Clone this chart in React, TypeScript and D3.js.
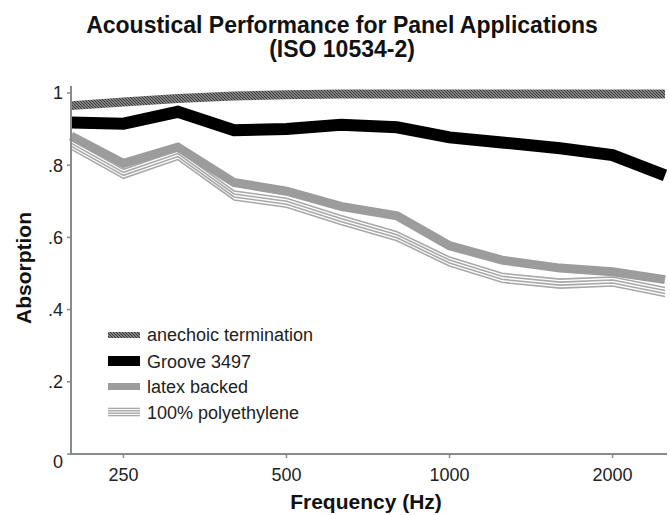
import * as d3 from "d3";

const freqs = [200, 250, 315, 400, 500, 630, 800, 1000, 1250, 1600, 2000, 2500];
const anechoic = [0.965, 0.975, 0.985, 0.992, 0.995, 0.997, 0.997, 0.997, 0.997, 0.997, 0.997, 0.997];
const groove = [0.918, 0.915, 0.948, 0.897, 0.9, 0.912, 0.905, 0.877, 0.863, 0.847, 0.828, 0.772];
const latex = [0.881, 0.805, 0.85, 0.752, 0.728, 0.686, 0.66, 0.577, 0.537, 0.515, 0.505, 0.483];
const poly = [0.857, 0.776, 0.828, 0.716, 0.696, 0.648, 0.603, 0.533, 0.488, 0.472, 0.478, 0.449];

const xTicks = [250, 500, 1000, 2000];
const yTicks = [0, 0.2, 0.4, 0.6, 0.8, 1];
const yTickLabels = ["0", ".2", ".4", ".6", ".8", "1"];
const legendLabels = ["anechoic termination", "Groove 3497", "latex backed", "100% polyethylene"];

const W = 670;
const H = 515;
const font = "'Liberation Sans', Arial, Helvetica, sans-serif";
const axisColor = "#8a8a8a";

export default function App() {
  const x = d3.scaleLog().domain([200, 2500]).range([71, 665]);
  const y = d3.scaleLinear().domain([0, 1]).range([454, 93]);

  const line = d3
    .line<number>()
    .x((_, i) => x(freqs[i]))
    .y((d) => y(d));

  const polyOffsets = [-4.5, -1.5, 1.5, 4.5];

  return (
    <svg width={W} height={H} style={{ position: "absolute", left: 0, top: 0, background: "#fff" }}>
      <defs>
        <pattern id="hatch" patternUnits="userSpaceOnUse" width={3} height={3}>
          <rect width={3} height={3} fill="#bdbdbd" />
          <path d="M0,0 L3,3 M-1,2 L1,4 M2,-1 L4,1" stroke="#3a3a3a" strokeWidth={1.3} />
        </pattern>
      </defs>

      {/* title */}
      <text x={342} y={33} textAnchor="middle" fontFamily={font} fontWeight="bold" fontSize={23} fill="#111">
        Acoustical Performance for Panel Applications
      </text>
      <text x={342} y={57} textAnchor="middle" fontFamily={font} fontWeight="bold" fontSize={23} fill="#111">
        (ISO 10534-2)
      </text>

      {/* series */}
      <g>
        {polyOffsets.map((dy, k) => (
          <path
            key={k}
            d={line(poly) || undefined}
            transform={`translate(0,${dy})`}
            fill="none"
            stroke="#a8a8a8"
            strokeWidth={1.6}
          />
        ))}
        <path d={line(latex) || undefined} fill="none" stroke="#9c9c9c" strokeWidth={9} />
        <path d={line(groove) || undefined} fill="none" stroke="#000" strokeWidth={12} />
        <path d={line(anechoic) || undefined} fill="none" stroke="url(#hatch)" strokeWidth={9} />
      </g>

      {/* axes */}
      <line x1={71} x2={71} y1={454} y2={86} stroke={axisColor} strokeWidth={2} />
      <line x1={70} x2={667} y1={454} y2={454} stroke={axisColor} strokeWidth={2} />
      {yTicks.map((t, i) => (
        <g key={t}>
          <line x1={67} x2={71} y1={y(t)} y2={y(t)} stroke={axisColor} strokeWidth={1.5} />
          <text
            x={63}
            y={y(t) + (t === 0 ? 8 : 0)}
            dy="0.35em"
            textAnchor="end"
            fontFamily={font}
            fontSize={18}
            fill="#222"
          >
            {yTickLabels[i]}
          </text>
        </g>
      ))}
      {xTicks.map((t) => (
        <g key={t}>
          <line x1={x(t)} x2={x(t)} y1={454} y2={458} stroke={axisColor} strokeWidth={1.5} />
          <text x={x(t)} y={481} textAnchor="middle" fontFamily={font} fontSize={18} fill="#222">
            {t}
          </text>
        </g>
      ))}
      <text x={366} y={509} textAnchor="middle" fontFamily={font} fontWeight="bold" fontSize={21} fill="#111">
        Frequency (Hz)
      </text>
      <text
        transform="translate(31,268) rotate(-90)"
        textAnchor="middle"
        fontFamily={font}
        fontWeight="bold"
        fontSize={21}
        fill="#111"
      >
        Absorption
      </text>

      {/* legend */}
      <g fontFamily={font} fontSize={18} fill="#222">
        <rect x={108} y={332} width={32} height={6} fill="url(#hatch)" />
        <rect x={108} y={356} width={32} height={10} fill="#000" />
        <rect x={108} y={383} width={32} height={7} fill="#9c9c9c" />
        {polyOffsets.map((dy, k) => (
          <line key={k} x1={108} x2={140} y1={412 + dy * 0.8} y2={412 + dy * 0.8} stroke="#a8a8a8" strokeWidth={1.4} />
        ))}
        {legendLabels.map((l, i) => (
          <text key={l} x={147} y={[335, 362, 387, 413][i]} dy="0.35em">
            {l}
          </text>
        ))}
      </g>
    </svg>
  );
}
